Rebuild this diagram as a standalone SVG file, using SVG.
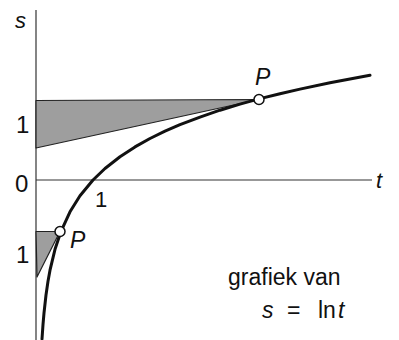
<svg xmlns="http://www.w3.org/2000/svg" width="399" height="340" viewBox="0 0 399 340">
<style>
.ax{stroke:#333;stroke-width:1.2;fill:none}
.sh{fill:#9e9e9e;stroke:#222;stroke-width:1.2;stroke-linejoin:round}
.cv{stroke:#111;stroke-width:3;fill:none;stroke-linejoin:round;stroke-linecap:round}
.pt{fill:#fff;stroke:#111;stroke-width:1.5}
.t{font-family:"Liberation Sans",Arial,sans-serif;fill:#111}
.i{font-style:italic}
</style>
<rect width="399" height="340" fill="#fff"/>
<g id="axes">
<line class="ax" x1="36" y1="10" x2="36" y2="340"/>
<line class="ax" x1="36" y1="180" x2="372" y2="180"/>
</g>
<g id="shading">
<polygon class="sh" points="36,100.5 259,99.5 36,148"/>
<polygon class="sh" points="36,231.5 60,231.5 37,277"/>
</g>
<g id="connectors">
<path class="cv" d="M42,339 L43,324.7 L44,313 L46,295 L48,281.3 L50,270.2 L55,249.3 L61,231.3 L70,211.8 L80,195.8 L93,180 L105,168.5 L120,156.7 L135,146.9 L150,138.5 L165,131.2 L180,124.7 L200,117.1 L220,110.2 L240,104.1 L259,98.9 L280,93.7 L300,89.1 L330,82.7 L370,75.3"/>
</g>
<g id="P1"><circle class="pt" cx="259" cy="99.5" r="5"/><text class="t i" x="255" y="85" font-size="23">P</text></g>
<g id="P2"><circle class="pt" cx="60" cy="231.5" r="5"/><text class="t i" x="70" y="248" font-size="23">P</text></g>
<g id="labels">
<text class="t i" x="15" y="28" font-size="22">s</text>
<text class="t i" x="376" y="188" font-size="22">t</text>
<text class="t" x="16" y="133" font-size="24">1</text>
<text class="t" x="15" y="192" font-size="24">0</text>
<text class="t" x="16" y="263" font-size="24">1</text>
<text class="t" x="95" y="207" font-size="22">1</text>
<text class="t" x="228" y="285" font-size="23">grafiek van</text>
<text class="t" font-size="23" y="318"><tspan class="i" x="262">s</tspan><tspan x="287">=</tspan><tspan x="318">ln</tspan><tspan class="i" x="338">t</tspan></text>
</g>
</svg>
